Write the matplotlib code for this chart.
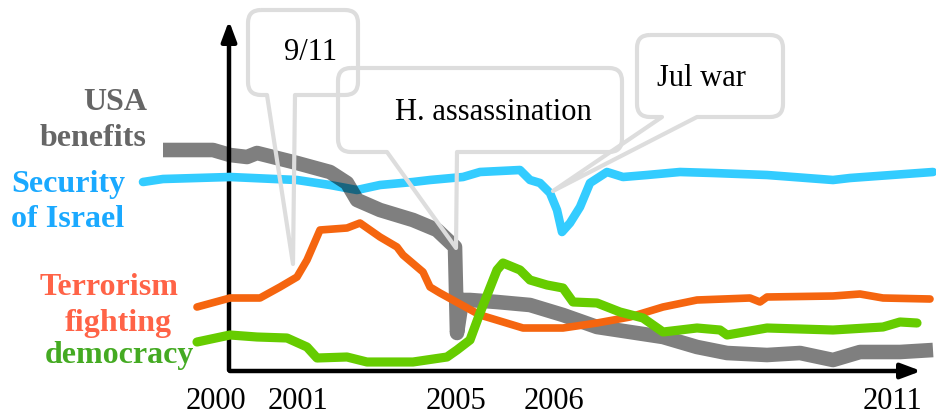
import matplotlib
matplotlib.use("Agg")
import matplotlib.pyplot as plt
from matplotlib.path import Path
from matplotlib.patches import PathPatch

# positions are in picture units: x to the right, y downwards (0 at top)
usa_x = [163, 213, 230, 247, 257, 273, 297, 330, 347, 357, 380, 413, 437, 455, 457, 462, 470,
         497, 530, 563, 597, 630, 663, 697, 727, 767, 800, 833, 860, 900, 933]
usa_y = [150, 150, 155, 157, 153, 157, 163, 172, 183, 200, 210, 220, 230, 247, 333, 300, 300,
         302, 305, 315, 327, 332, 337, 347, 353, 355, 353, 360, 352, 352, 350]

israel_x = [143, 163, 230, 297, 330, 357, 380, 413, 430, 463, 480, 520, 530, 540, 550, 557, 562,
            570, 580, 590, 607, 623, 647, 680, 713, 767, 833, 850, 933]
israel_y = [182, 179, 177, 180, 185, 190, 185, 182, 180, 177, 172, 170, 180, 183, 193, 210, 232,
            223, 207, 183, 172, 177, 175, 172, 173, 175, 180, 178, 172]

terror_x = [197, 230, 260, 280, 297, 307, 320, 347, 360, 380, 397, 403, 423, 430, 440, 480, 523,
            563, 597, 630, 663, 697, 750, 760, 767, 833, 860, 883, 930]
terror_y = [307, 298, 298, 287, 277, 260, 230, 228, 223, 237, 247, 255, 272, 287, 293, 315, 328,
            328, 323, 317, 307, 300, 298, 302, 297, 296, 294, 298, 299]

democ_x = [197, 230, 257, 287, 307, 317, 347, 367, 413, 447, 457, 470, 480, 497, 503, 520, 530,
           547, 563, 573, 597, 620, 643, 663, 697, 720, 727, 767, 833, 883, 900, 917]
democ_y = [342, 335, 337, 338, 347, 358, 357, 362, 362, 357, 350, 340, 313, 270, 263, 270, 280,
           285, 288, 302, 303, 312, 318, 332, 328, 330, 335, 328, 330, 327, 322, 323]

years = ["2000", "2001", "2005", "2006", "2011"]
year_x = [216, 298, 456, 554, 893]

events = ["9/11", "H. assassination", "Jul war"]

fig = plt.figure(figsize=(9.37, 4.19), dpi=100)
ax = fig.add_axes([0, 0, 1, 1])
ax.set_xlim(0, 937)
ax.set_ylim(419, 0)
ax.axis("off")

serif = ["Liberation Serif", "DejaVu Serif"]

# axes arrows
ax.annotate("", xy=(229, 18), xytext=(229, 373),
            arrowprops=dict(arrowstyle="-|>,head_length=1.2,head_width=0.45", color="black", lw=3.2))
ax.annotate("", xy=(924, 371), xytext=(227, 371),
            arrowprops=dict(arrowstyle="-|>,head_length=1.2,head_width=0.45", color="black", lw=3.2))

# series
ax.plot(israel_x, israel_y, color="#33ccff", lw=6.2, solid_capstyle="round", solid_joinstyle="round", zorder=3)
ax.plot(usa_x, usa_y, color="black", alpha=0.5, lw=10.5, solid_capstyle="butt", zorder=4)
ax.plot(terror_x, terror_y, color="#f5650f", lw=5.5, solid_capstyle="round", solid_joinstyle="round", zorder=5)
ax.plot(democ_x, democ_y, color="#66cc00", lw=6.6, solid_capstyle="round", solid_joinstyle="round", zorder=6)

# series labels
lab = dict(family=serif, fontsize=23, fontweight="bold", va="center")
ax.text(147, 102, "USA", color="#666666", ha="right", **lab)
ax.text(147, 138, "benefits", color="#666666", ha="right", **lab)
ax.text(68, 184, "Security", color="#1aa9ff", ha="center", **lab)
ax.text(68, 219, "of Israel", color="#1aa9ff", ha="center", **lab)
ax.text(109, 287, "Terrorism", color="#ff6347", ha="center", **lab)
ax.text(118, 323, "fighting", color="#ff6347", ha="center", **lab)
ax.text(119, 355, "democracy", color="#44aa22", ha="center", **lab)

for label, x in zip(years, year_x):
    ax.text(x, 401, label, family=serif, fontsize=22, ha="center", va="center")


def callout(x0, y0, x1, y1, t0, t1, tip, r=13):
    verts = [(x0 + r, y0), (x1 - r, y0), (x1, y0), (x1, y0 + r), (x1, y1 - r), (x1, y1),
             (x1 - r, y1), (t1, y1), tip, (t0, y1), (x0 + r, y1), (x0, y1), (x0, y1 - r),
             (x0, y0 + r), (x0, y0), (x0 + r, y0)]
    codes = [Path.MOVETO, Path.LINETO, Path.CURVE3, Path.CURVE3, Path.LINETO, Path.CURVE3,
             Path.CURVE3, Path.LINETO, Path.LINETO, Path.LINETO, Path.LINETO, Path.CURVE3,
             Path.CURVE3, Path.LINETO, Path.CURVE3, Path.CURVE3]
    ax.add_patch(PathPatch(Path(verts, codes), facecolor="none", edgecolor="#dddddd",
                           lw=3, joinstyle="round", zorder=7))


callout(248, 10, 358, 95, 267, 295, (293, 264))
callout(338, 68, 622, 152, 387, 457, (456, 248))
callout(637, 35, 783, 117, 662, 697, (553, 191))

txt = dict(family=serif, fontsize=22, ha="center", va="center", zorder=8)
ax.text(311, 52, events[0], **txt)
ax.text(493, 112, events[1], **txt)
ax.text(701, 79, events[2], **txt)

fig.savefig("out.png", dpi=100)
